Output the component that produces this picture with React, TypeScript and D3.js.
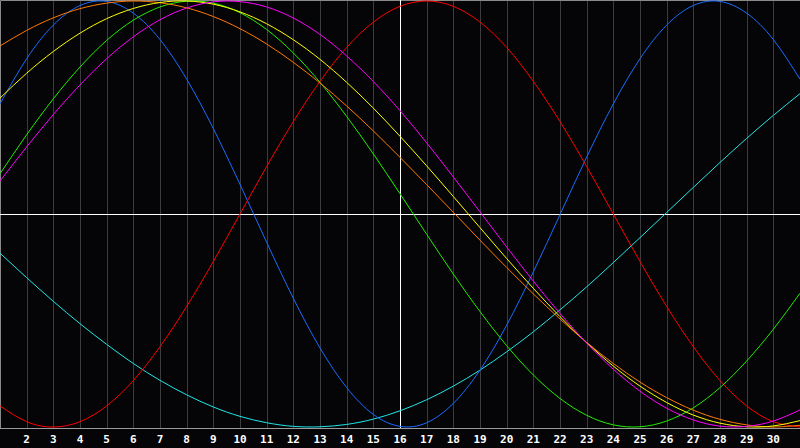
import React, { useEffect, useRef } from 'react';
import * as d3 from 'd3';

// days shown on the chart (1..31), labels only for 2..30
const days = d3.range(1, 32);
const tickDays = d3.range(2, 31);
const todayDay = 16;

// cycle values, one per day (day 1 .. day 31)
const physical = [0.517, 0.729, 0.887, 0.979, 0.998, 0.943, 0.819, 0.633, 0.401, 0.139, -0.133, -0.396, -0.629, -0.815, -0.941, -0.997, -0.98, -0.889, -0.733, -0.522, -0.272, -0.003, 0.267, 0.517, 0.729, 0.887, 0.979, 0.998, 0.943, 0.819, 0.633];
const emotional = [-0.901, -0.975, -1, -0.975, -0.901, -0.782, -0.623, -0.434, -0.223, 0, 0.223, 0.434, 0.623, 0.782, 0.901, 0.975, 1, 0.975, 0.901, 0.782, 0.623, 0.434, 0.223, 0, -0.223, -0.434, -0.623, -0.782, -0.901, -0.975, -1];
const intellectual = [0.189, 0.372, 0.541, 0.69, 0.815, 0.91, 0.972, 0.999, 0.99, 0.945, 0.866, 0.756, 0.618, 0.458, 0.282, 0.095, -0.095, -0.282, -0.458, -0.618, -0.756, -0.866, -0.945, -0.99, -0.999, -0.972, -0.91, -0.815, -0.69, -0.541, -0.372];
const intuitive = [0.155, 0.315, 0.467, 0.606, 0.729, 0.832, 0.912, 0.967, 0.996, 0.997, 0.972, 0.92, 0.843, 0.742, 0.622, 0.485, 0.334, 0.174, 0.01, -0.155, -0.315, -0.467, -0.606, -0.729, -0.832, -0.912, -0.967, -0.996, -0.997, -0.972, -0.92];
const aesthetic = [0.544, 0.661, 0.763, 0.849, 0.917, 0.965, 0.993, 1, 0.985, 0.949, 0.893, 0.818, 0.726, 0.618, 0.497, 0.365, 0.226, 0.082, -0.064, -0.209, -0.349, -0.482, -0.604, -0.714, -0.808, -0.885, -0.944, -0.982, -0.999, -0.995, -0.97];
const awareness = [0.789, 0.862, 0.921, 0.964, 0.99, 1, 0.992, 0.968, 0.927, 0.87, 0.798, 0.712, 0.615, 0.507, 0.39, 0.266, 0.138, 0.008, -0.123, -0.251, -0.375, -0.493, -0.603, -0.702, -0.789, -0.862, -0.921, -0.964, -0.99, -1, -0.992];
const spiritual = [-0.184, -0.299, -0.41, -0.515, -0.612, -0.702, -0.781, -0.849, -0.906, -0.95, -0.98, -0.997, -0.999, -0.988, -0.963, -0.924, -0.872, -0.808, -0.733, -0.647, -0.553, -0.45, -0.342, -0.228, -0.111, 0.007, 0.125, 0.242, 0.355, 0.463, 0.565];

const seriesNames = ['spiritual', 'physical', 'emotional', 'intellectual', 'awareness', 'aesthetic', 'intuitive'];
const seriesValues = [spiritual, physical, emotional, intellectual, awareness, aesthetic, intuitive];
const seriesColors = ['#22e6e6', '#1a6cff', '#ff0000', '#22ee00', '#ff7a00', '#ffff00', '#ff00ff'];

const Chart = () => {
    const svgRef = useRef(null);

    useEffect(() => {
        const svg = d3.select(svgRef.current);
        svg.selectAll('*').remove();

        const width = 800;
        const height = 448;
        const plotBottom = 428;

        svg.append('rect')
            .attr('width', width)
            .attr('height', height)
            .attr('fill', '#050508');

        const xScale = d3.scaleLinear().domain([1, 31]).range([0, 800]);
        const yScale = d3.scaleLinear().domain([-1, 1]).range([427, 1]);

        // 세로 그리드
        svg.append('g')
            .selectAll('line')
            .data(tickDays)
            .join('line')
            .attr('x1', d => Math.round(xScale(d)) + 0.5)
            .attr('x2', d => Math.round(xScale(d)) + 0.5)
            .attr('y1', 0)
            .attr('y2', plotBottom)
            .attr('stroke', '#3c3c40')
            .attr('stroke-width', 1);

        // 테두리
        svg.append('path')
            .attr('d', `M0.5,${plotBottom + 0.5}V0.5H${width}`)
            .attr('fill', 'none')
            .attr('stroke', '#8a8a8a');
        svg.append('line')
            .attr('x1', 0).attr('x2', width)
            .attr('y1', plotBottom + 0.5).attr('y2', plotBottom + 0.5)
            .attr('stroke', '#9a9a9a');

        // 기준선 (0, 오늘)
        svg.append('line')
            .attr('x1', 0).attr('x2', width)
            .attr('y1', Math.round(yScale(0)) + 0.5).attr('y2', Math.round(yScale(0)) + 0.5)
            .attr('stroke', '#ffffff');
        svg.append('line')
            .attr('x1', Math.round(xScale(todayDay)) + 0.5).attr('x2', Math.round(xScale(todayDay)) + 0.5)
            .attr('y1', 0).attr('y2', plotBottom)
            .attr('stroke', '#ffffff');

        const line = d3.line<number>()
            .x((_, i) => xScale(days[i]))
            .y(d => yScale(d))
            .curve(d3.curveNatural);

        seriesValues.forEach((values, index) => {
            svg.append('path')
                .datum(values)
                .attr('class', seriesNames[index])
                .attr('fill', 'none')
                .attr('stroke', seriesColors[index])
                .attr('stroke-width', 1)
                .attr('d', line);
        });

        // 날짜 라벨
        svg.append('g')
            .selectAll('text')
            .data(tickDays)
            .join('text')
            .attr('x', d => xScale(d))
            .attr('y', 443)
            .attr('text-anchor', 'middle')
            .attr('fill', '#ffffff')
            .attr('font-family', 'DejaVu Sans Mono')
            .attr('font-weight', 'bold')
            .attr('font-size', 11)
            .text(d => `${d}`);
    }, []);

    return (
        <svg ref={svgRef} width={800} height={448} style={{ position: 'absolute', left: 0, top: 0, display: 'block' }} />
    );
};

export default function App() {
    return <Chart />;
}
